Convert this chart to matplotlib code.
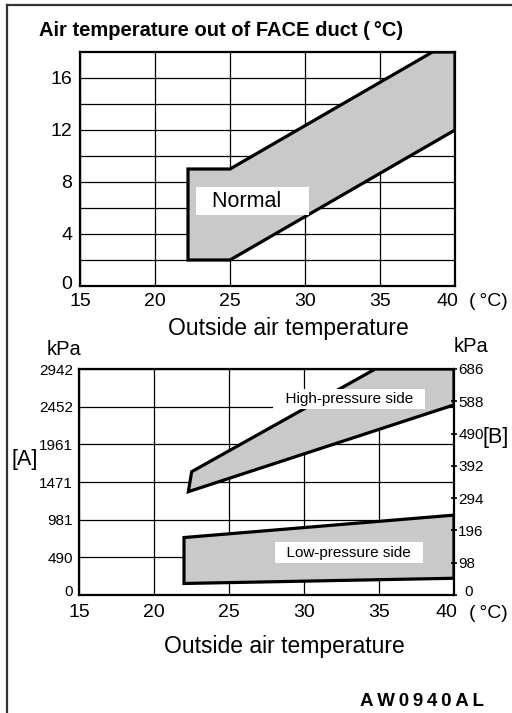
import matplotlib
matplotlib.use("Agg")
import matplotlib.pyplot as plt
from matplotlib.lines import Line2D
from matplotlib.patches import Polygon
from matplotlib.transforms import ScaledTranslation

plt.rcParams['font.family'] = ['Liberation Sans', 'DejaVu Sans']

# ---------------- data ----------------
x_ticks = [15, 20, 25, 30, 35, 40]
top_y_ticks = [0, 4, 8, 12, 16]
top_y_grid = [2, 4, 6, 8, 10, 12, 14, 16]

normal_x = [22.2, 22.2, 25, 38.5, 40, 40, 25]
normal_y = [2, 9, 9, 18, 18, 12, 2]

a_ticks = [0, 490, 981, 1471, 1961, 2452, 2942]
b_ticks = [0, 98, 196, 294, 392, 490, 588, 686]

high_x = [22.29, 22.51, 34.75, 40, 40]
high_y = [1345, 1605, 2942, 2942, 2475]

low_x = [22.0, 22.0, 40, 40]
low_y = [150, 748, 1040, 218]

W, H = 512, 713
fig = plt.figure(figsize=(W / 100, H / 100), dpi=100)

def fx(px):
    return px / W

def fy(py):
    return 1 - py / H

def shift(label, dx_px, dy_px):
    label.set_transform(label.get_transform() +
                        ScaledTranslation(dx_px / 100, dy_px / 100,
                                          fig.dpi_scale_trans))

FILL = '#c9c9c9'
EDGE_LW = 2.3
GRID_LW = 0.9
SPINE_LW = 1.6

# ---------------- top chart ----------------
ax = fig.add_axes([fx(80), fy(286), fx(455) - fx(80), fy(52) - fy(286)])
ax.set_xlim(15, 40)
ax.set_ylim(0, 18)
ax.set_xticks(x_ticks)
ax.set_yticks(top_y_ticks)
ax.set_yticks(top_y_grid, minor=True)
ax.tick_params(axis='both', which='both', length=0, labelsize=14)
ax.tick_params(axis='x', pad=5)
ax.tick_params(axis='y', pad=5.5)
ax.grid(True, which='both', axis='y', color='black', lw=GRID_LW)
ax.grid(True, which='major', axis='x', color='black', lw=GRID_LW)
ax.set_axisbelow(True)
for s in ax.spines.values():
    s.set_linewidth(SPINE_LW)
ax.add_patch(Polygon(list(zip(normal_x, normal_y)), closed=True,
                     facecolor=FILL, edgecolor='black', lw=EDGE_LW,
                     joinstyle='miter', zorder=2))
ax.text(23.0, 6.1, '  Normal    ', fontsize=15.5, ha='left', va='baseline',
        zorder=3, bbox=dict(boxstyle='square,pad=0.17', fc='white', ec='none'))

shift(ax.yaxis.get_major_ticks()[0].label1, 0, 3)
shift(ax.xaxis.get_major_ticks()[-1].label1, -8, 0)

fig.text(fx(39), fy(31), 'Air temperature out of FACE duct (\u2009°C)',
         fontsize=14.5, fontweight='bold', ha='left', va='center')
fig.text(fx(488), fy(301), '(\u2009°C)', fontsize=14, ha='center', va='center')
fig.text(fx(288), fy(335), 'Outside air temperature', fontsize=16.5,
         ha='center', va='baseline')

# ---------------- bottom chart ----------------
bx = fig.add_axes([fx(79), fy(595), fx(454) - fx(79), fy(369) - fy(595)])
bx.set_xlim(15, 40)
bx.set_ylim(0, 2942)
bx.set_xticks(x_ticks)
bx.set_yticks(a_ticks)
bx.tick_params(axis='both', length=0)
bx.tick_params(axis='x', labelsize=14, pad=6.5)
bx.tick_params(axis='y', labelsize=11, pad=4.5)
bx.grid(True, color='black', lw=GRID_LW)
bx.set_axisbelow(True)
for s in bx.spines.values():
    s.set_linewidth(SPINE_LW)
bx.add_patch(Polygon(list(zip(high_x, high_y)), closed=True,
                     facecolor=FILL, edgecolor='black', lw=EDGE_LW,
                     joinstyle='miter', zorder=2))
bx.add_patch(Polygon(list(zip(low_x, low_y)), closed=True,
                     facecolor=FILL, edgecolor='black', lw=EDGE_LW,
                     joinstyle='miter', zorder=2))
bx.text(33.0, 2551, '  High-pressure side  ', fontsize=11, ha='center',
        va='center', zorder=3,
        bbox=dict(boxstyle='square,pad=0.22', fc='white', ec='none'))
bx.text(33.0, 553, '  Low-pressure side  ', fontsize=11, ha='center',
        va='center', zorder=3,
        bbox=dict(boxstyle='square,pad=0.22', fc='white', ec='none'))

shift(bx.yaxis.get_major_ticks()[0].label1, 0, 4)
shift(bx.xaxis.get_major_ticks()[-1].label1, -8, 0)

b2 = bx.twinx()
b2.set_ylim(0, 686)
b2.set_yticks(b_ticks)
b2.tick_params(axis='y', labelsize=11, length=4, width=1.2,
               direction='inout', pad=1)
for s in b2.spines.values():
    s.set_visible(False)
shift(b2.yaxis.get_major_ticks()[0].label2, 6, 4)

fig.text(fx(64), fy(355), 'kPa', fontsize=14.5, ha='center', va='baseline')
fig.text(fx(471), fy(352), 'kPa', fontsize=14.5, ha='center', va='baseline')
fig.text(fx(25), fy(459), '[A]', fontsize=15.5, ha='center', va='center')
fig.text(fx(496), fy(438), '[B]', fontsize=15.5, ha='center', va='center')
fig.text(fx(488), fy(613), '(\u2009°C)', fontsize=14, ha='center', va='center')
fig.text(fx(284), fy(653), 'Outside air temperature', fontsize=16.5,
         ha='center', va='baseline')

fig.text(fx(422), fy(702), '\u2009'.join('AW0940AL'), fontsize=13.5,
         fontweight='bold', ha='center', va='center')

# ---------------- page frame ----------------
fig.add_artist(Line2D([fx(6.5), fx(6.5)], [fy(5), 0], color='#333333',
                      lw=1.6, transform=fig.transFigure))
fig.add_artist(Line2D([fx(6.5), 1], [fy(5), fy(5)], color='#333333',
                      lw=1.6, transform=fig.transFigure))

fig.savefig('out.png', dpi=100)
